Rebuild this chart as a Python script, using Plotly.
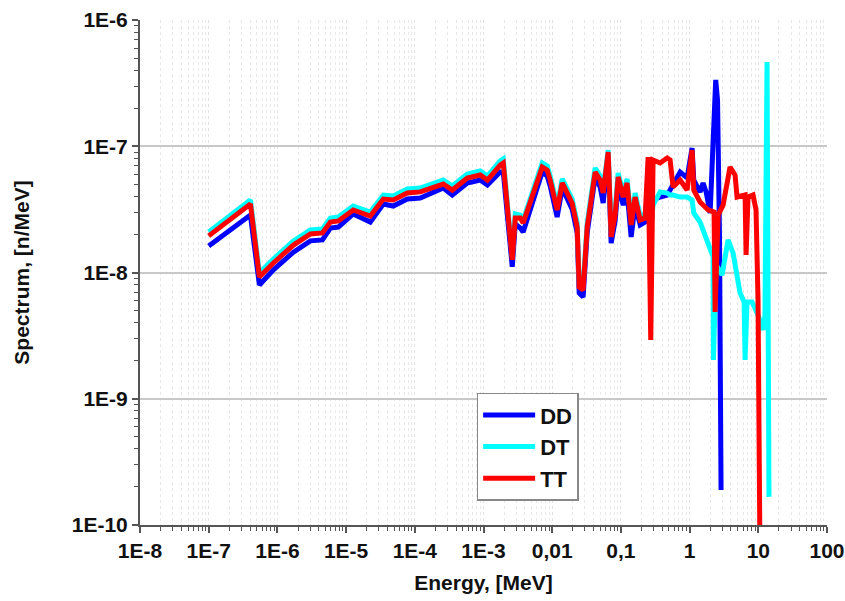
import plotly.graph_objects as go

# ---------------- data ----------------
E_common = [1.0e-7, 4.05e-7, 5.47e-7, 8.75e-7, 1.71e-6, 3.02e-6, 4.52e-6, 5.90e-6, 7.71e-6, 1.27e-5,
            2.25e-5, 3.48e-5, 4.86e-5, 7.78e-5, 1.20e-4, 2.60e-4, 3.51e-4, 5.80e-4, 8.97e-4, 1.14e-3,
            1.75e-3, 1.94e-3, 2.62e-3, 2.90e-3, 3.43e-3, 3.78e-3, 7.16e-3, 8.45e-3, 9.35e-3, 1.18e-2,
            1.40e-2, 1.95e-2, 2.31e-2, 2.47e-2, 2.82e-2, 3.23e-2, 4.22e-2, 4.99e-2, 5.52e-2, 6.53e-2,
            7.21e-2, 8.24e-2, 9.12e-2, 0.108, 0.123, 0.141, 0.161, 0.191, 0.225, 0.249,
            0.272, 0.294, 0.372, 0.471, 0.520, 0.575, 0.728, 0.920, 1.087, 1.15]

TT_common = [1.95e-8, 3.49e-8, 9.21e-9, 1.19e-8, 1.65e-8, 2.02e-8, 2.06e-8, 2.51e-8, 2.56e-8, 3.13e-8,
             2.80e-8, 3.82e-8, 3.75e-8, 4.26e-8, 4.35e-8, 5.02e-8, 4.50e-8, 5.61e-8, 5.92e-8, 5.40e-8,
             7.10e-8, 7.37e-8, 1.26e-8, 2.70e-8, 2.70e-8, 2.47e-8, 6.85e-8, 6.48e-8, 5.40e-8, 3.13e-8,
             5.12e-8, 3.55e-8, 2.29e-8, 7.67e-9, 7.27e-9, 2.29e-8, 6.25e-8, 5.40e-8, 4.26e-8, 9.00e-8,
             1.91e-8, 2.85e-8, 5.71e-8, 3.96e-8, 5.12e-8, 2.38e-8, 3.96e-8, 2.60e-8, 2.70e-8, 8.22e-8,
             2.92e-9, 7.78e-8, 7.37e-8, 8.07e-8, 7.78e-8, 4.75e-8, 5.40e-8, 4.50e-8, 9.33e-8, 4.50e-8]

DD_common = [1.62e-8, 2.85e-8, 7.96e-9, 1.05e-8, 1.45e-8, 1.78e-8, 1.81e-8, 2.25e-8, 2.29e-8, 2.91e-8,
             2.51e-8, 3.49e-8, 3.36e-8, 3.82e-8, 3.89e-8, 4.67e-8, 4.11e-8, 5.12e-8, 5.40e-8, 4.93e-8,
             6.25e-8, 6.25e-8, 1.11e-8, 2.42e-8, 2.25e-8, 2.09e-8, 6.25e-8, 5.81e-8, 4.84e-8, 2.75e-8,
             4.67e-8, 3.18e-8, 2.06e-8, 6.88e-9, 6.40e-9, 2.06e-8, 5.71e-8, 4.75e-8, 3.55e-8, 8.37e-8,
             1.71e-8, 2.56e-8, 4.93e-8, 3.42e-8, 4.35e-8, 1.91e-8, 3.42e-8, 2.38e-8, 2.51e-8, 4.93e-8,
             3.00e-8, 3.75e-8, 3.96e-8, 4.11e-8, 4.50e-8, 4.93e-8, 6.25e-8, 5.61e-8, 9.68e-8, 5.40e-8]

DT_common = [2.09e-8, 3.75e-8, 9.91e-9, 1.28e-8, 1.78e-8, 2.17e-8, 2.21e-8, 2.70e-8, 2.75e-8, 3.36e-8,
             3.01e-8, 4.11e-8, 4.04e-8, 4.59e-8, 4.67e-8, 5.40e-8, 4.84e-8, 6.03e-8, 6.37e-8, 5.81e-8,
             7.64e-8, 7.93e-8, 1.33e-8, 2.91e-8, 2.85e-8, 2.60e-8, 7.37e-8, 6.98e-8, 5.81e-8, 3.36e-8,
             5.51e-8, 3.82e-8, 2.47e-8, 8.26e-9, 7.82e-9, 2.47e-8, 6.73e-8, 5.81e-8, 4.59e-8, 9.33e-8,
             2.06e-8, 3.07e-8, 6.14e-8, 4.26e-8, 5.51e-8, 2.56e-8, 4.26e-8, 2.80e-8, 2.91e-8, 4.50e-8,
             2.25e-8, 3.42e-8, 4.35e-8, 4.26e-8, 4.11e-8, 4.11e-8, 3.96e-8, 3.96e-8, 3.75e-8, 2.96e-8]

E_DD_tail = [1.42, 1.57, 1.74, 1.99, 2.20, 2.40, 2.55, 2.72, 2.87]
DD_tail = [4.34e-8, 5.12e-8, 4.34e-8, 2.96e-8, 1.18e-7, 3.35e-7, 2.32e-7, 2.06e-8, 1.89e-10]

E_DT_tail = [1.42, 1.68, 1.99, 2.20, 2.22, 2.43, 2.97, 3.63, 4.29, 5.43, 6.21, 6.42, 6.86, 8.11,
             9.91, 11.7, 12.5, 13.4, 14.3]
DT_tail = [2.51e-8, 1.98e-8, 1.59e-8, 1.33e-8, 2.03e-9, 1.15e-8, 9.55e-9, 1.81e-8, 1.43e-8, 6.88e-9,
           5.84e-9, 2.03e-9, 5.84e-9, 5.84e-9, 4.61e-9, 3.51e-9, 4.61e-9, 4.65e-7, 1.67e-10]

E_TT_tail = [1.42, 1.86, 2.27, 2.35, 2.60, 3.07, 3.88, 4.59, 4.91, 6.42, 6.64, 7.09, 8.39, 9.27,
             9.91, 10.6]
TT_tail = [3.62e-8, 3.13e-8, 3.01e-8, 4.87e-9, 2.85e-8, 3.42e-8, 6.85e-8, 5.92e-8, 3.96e-8, 4.11e-8,
           1.38e-8, 3.96e-8, 4.11e-8, 3.13e-8, 6.06e-9, 5e-11]

series_names = ["DD", "DT", "TT"]
series_colors = ["#0000ff", "#00ffff", "#ff0000"]

x_tickvals = [1e-8, 1e-7, 1e-6, 1e-5, 1e-4, 1e-3, 1e-2, 1e-1, 1, 10, 100]
x_ticktext = ["1E-8", "1E-7", "1E-6", "1E-5", "1E-4", "1E-3", "0,01", "0,1", "1", "10", "100"]
y_tickvals = [1e-10, 1e-9, 1e-8, 1e-7, 1e-6]
y_ticktext = ["1E-10", "1E-9", "1E-8", "1E-7", "1E-6"]

# ---------------- figure ----------------
xs = [E_common + E_DD_tail, E_common + E_DT_tail, E_common + E_TT_tail]
ys = [DD_common + DD_tail, DT_common + DT_tail, TT_common + TT_tail]

fig = go.Figure()
for name, color, x, y in zip(series_names, series_colors, xs, ys):
    fig.add_trace(go.Scatter(x=x, y=y, mode="lines", name=name,
                             line=dict(color=color, width=5)))

FONT = "Liberation Sans, Arial, sans-serif"
axis_color = "#555555"

fig.update_layout(
    width=845, height=601,
    margin=dict(l=140, r=18, t=20, b=76),
    paper_bgcolor="white", plot_bgcolor="white",
    font=dict(family=FONT, size=20, color="#111111", weight="bold"),
    showlegend=True,
    legend=dict(x=0.49, y=0.262, xanchor="left", yanchor="top",
                bordercolor="#888888", borderwidth=1.5, bgcolor="white",
                font=dict(size=22, family=FONT, weight="bold", color="#111111"),
                tracegroupgap=0, itemwidth=52),
)

fig.update_xaxes(
    type="log", range=[-8, 2], automargin=False,
    tickmode="array", tickvals=x_tickvals, ticktext=x_ticktext,
    ticks="outside", ticklen=6, tickwidth=1.5, tickcolor=axis_color,
    showline=True, linecolor=axis_color, linewidth=2,
    showgrid=True, gridcolor="#e2e2e2", gridwidth=1, griddash="dot",
    tickfont=dict(size=21, family=FONT, weight="bold"),
    title=dict(text="Energy, [MeV]", font=dict(size=21, family=FONT, weight="bold"), standoff=14),
    minor=dict(dtick="D1", ticks="outside", ticklen=4, tickcolor=axis_color, tickwidth=1,
               showgrid=True, gridcolor="#e8e8e8", gridwidth=1, griddash="dot"),
    zeroline=False,
)

fig.update_yaxes(
    type="log", range=[-10, -6], automargin=False,
    tickmode="array", tickvals=y_tickvals, ticktext=y_ticktext,
    ticks="outside", ticklen=6, tickwidth=1.5, tickcolor=axis_color,
    showline=True, linecolor=axis_color, linewidth=2,
    showgrid=True, gridcolor="#c8c8c8", gridwidth=1.5,
    tickfont=dict(size=21, family=FONT, weight="bold"),
    title=dict(text="Spectrum, [n/MeV]", font=dict(size=21, family=FONT, weight="bold"), standoff=36),
    minor=dict(dtick="D1", ticks="outside", ticklen=4, tickcolor=axis_color, tickwidth=1,
               showgrid=False),
    zeroline=False,
)

fig.write_html("out.html")
